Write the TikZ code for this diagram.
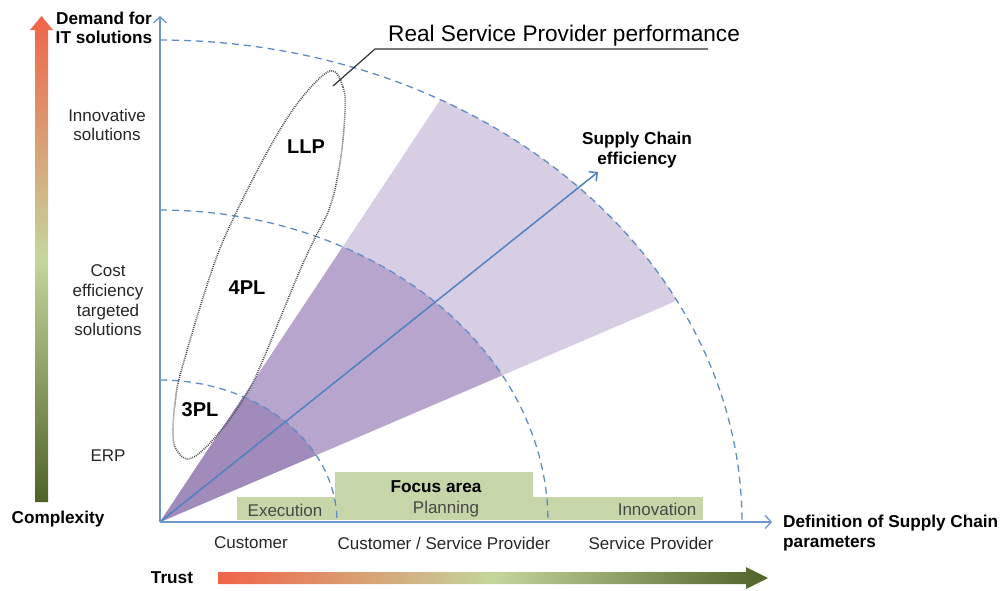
\documentclass[tikz,border=0pt]{standalone}
\usepackage{fontspec}
\setmainfont{Liberation Sans}
\usetikzlibrary{arrows.meta}
\definecolor{axisblue}{RGB}{110,150,205}
\definecolor{arcblue}{RGB}{95,140,200}
\definecolor{scblue}{RGB}{80,130,195}
\definecolor{wlight}{RGB}{216,206,228}
\definecolor{wmed}{RGB}{183,165,205}
\definecolor{wdark}{RGB}{161,139,187}
\definecolor{boxgreen}{RGB}{198,214,168}
\definecolor{gorange}{RGB}{240,100,72}
\definecolor{gmid}{RGB}{196,214,155}
\definecolor{golive}{RGB}{79,98,40}
\definecolor{txt}{RGB}{38,38,38}
\pgfdeclareverticalshading{vgrad}{100bp}{color(0bp)=(golive); color(25bp)=(golive); color(50bp)=(gmid); color(75bp)=(gorange); color(100bp)=(gorange)}
\pgfdeclarehorizontalshading{hgrad}{100bp}{color(0bp)=(gorange); color(25bp)=(gorange); color(50bp)=(gmid); color(75bp)=(golive); color(100bp)=(golive)}
\begin{document}
\begin{tikzpicture}[x=1pt,y=-1pt,
 lbl/.style={font=\fontsize{17}{19.7}\selectfont, text=txt, align=center, inner sep=0pt},
 blbl/.style={font=\fontsize{17.2}{19.5}\selectfont\bfseries, text=black, align=center, inner sep=0pt},
 plbl/.style={font=\fontsize{20}{22}\selectfont\bfseries, text=black, inner sep=0pt},
 boxlbl/.style={font=\fontsize{17}{19}\selectfont, text=black!72, inner sep=0pt},
 axisline/.style={draw=axisblue, line width=1.3pt, -{Straight Barb[length=6pt,width=13pt]}},
 arcline/.style={draw=arcblue, line width=1.3pt, dash pattern=on 7pt off 5pt},
 gbox/.style={fill=boxgreen, draw=none}]

\useasboundingbox (0,0) rectangle (1003,590);

\coordinate (O) at (160,522);
\coordinate (Ytop) at (160,16);
\coordinate (Xend) at (772,522);
\coordinate (SCend) at (598,172);

% wedges
\fill[wlight] (O) -- plot[domain=-61.2:-27.35, samples=40] ({160+582*cos(\x)},{522+482*sin(\x)}) -- cycle;
\fill[wmed] (O) -- plot[domain=-61.9:-28.06, samples=40] ({160+388*cos(\x)},{522+312*sin(\x)}) -- cycle;
\fill[wdark] (O) -- plot[domain=-62.0:-28.1, samples=40] ({160+177*cos(\x)},{522+142*sin(\x)}) -- cycle;

% green boxes
\fill[gbox] (237,497) rectangle (335,520);
\fill[gbox] (335,472) rectangle (533,520);
\fill[gbox] (533,497) rectangle (703,520);

% dashed arcs
\draw[arcline] plot[domain=-90:0, samples=80] ({160+582*cos(\x)},{522+482*sin(\x)});
\draw[arcline] plot[domain=-90:0, samples=60] ({160+388*cos(\x)},{522+312*sin(\x)});
\draw[arcline] plot[domain=-90:0, samples=40] ({160+177*cos(\x)},{522+142*sin(\x)});

% supply chain efficiency arrow
\draw[scblue, line width=1.5pt, -{Straight Barb[length=6pt,width=12pt]}] (O) -- (SCend);

% axes
\draw[axisline] (O) -- (Ytop);
\draw[axisline] (O) -- (Xend);

% dotted ellipse
\draw[black!70, line width=1.6pt, dash pattern=on 0.9pt off 1.1pt] plot[smooth cycle, tension=0.6] coordinates {
 (330,71) (343,87) (345,113) (340,163) (330,207) (314,240) (298,275) (260,367) (247,393)
 (227,423) (203,450) (187,459) (176,449) (173,435) (175,403) (182,368) (212,270) (235,215)
 (270,147) (300,100)};

% leader line
\coordinate (L1) at (708,49);
\coordinate (L2) at (375,49);
\coordinate (L3) at (333,86);
\draw[black!80, line width=1.2pt] (L1) -- (L2) -- (L3);
\node[anchor=west, inner sep=0pt, font=\fontsize{22.6}{24}\selectfont] (rsp) at (388,36) {Real Service Provider performance};

% gradient arrows
\shade[shading=vgrad]
  (35,502) -- (35,30) -- (30,30) -- (41.5,16) -- (53,30) -- (48,30) -- (48,502) -- cycle;
\shade[shading=hgrad]
  (218,572) -- (746,572) -- (746,567) -- (768,578) -- (746,589) -- (746,584) -- (218,584) -- cycle;

% left labels
\node[blbl] (demand) at (104,28) {Demand for\\IT solutions};
\node[lbl] (innov) at (107,125) {Innovative\\solutions};
\node[lbl] (cost) at (108,300.5) {Cost\\efficiency\\targeted\\solutions};
\node[lbl] (erp) at (108,456) {ERP};
\node[blbl] (complex) at (58,519) {Complexity};
\node[blbl] (trust) at (172,578) {Trust};

% provider labels
\node[plbl] (llp) at (306,147) {LLP};
\node[plbl] (fourpl) at (247,288) {4PL};
\node[plbl] (threepl) at (200,410) {3PL};

% x labels
\node[lbl] (cust) at (251,543) {Customer};
\node[lbl] (custsp) at (444,543) {Customer / Service Provider};
\node[lbl] (sp) at (651,543) {Service Provider};
\node[blbl, anchor=west, align=left] (defsc) at (783,533) {Definition of Supply Chain\\parameters};
\node[blbl] (sce) at (637,150) {Supply Chain\\efficiency};

% box labels
\node[boxlbl] (exec) at (285,510) {Execution};
\node[boxlbl] (plan) at (446,509) {Planning};
\node[boxlbl] (innovation) at (657,509) {Innovation};
\node[blbl] (focus) at (436,487) {Focus area};
\end{tikzpicture}
\end{document}
